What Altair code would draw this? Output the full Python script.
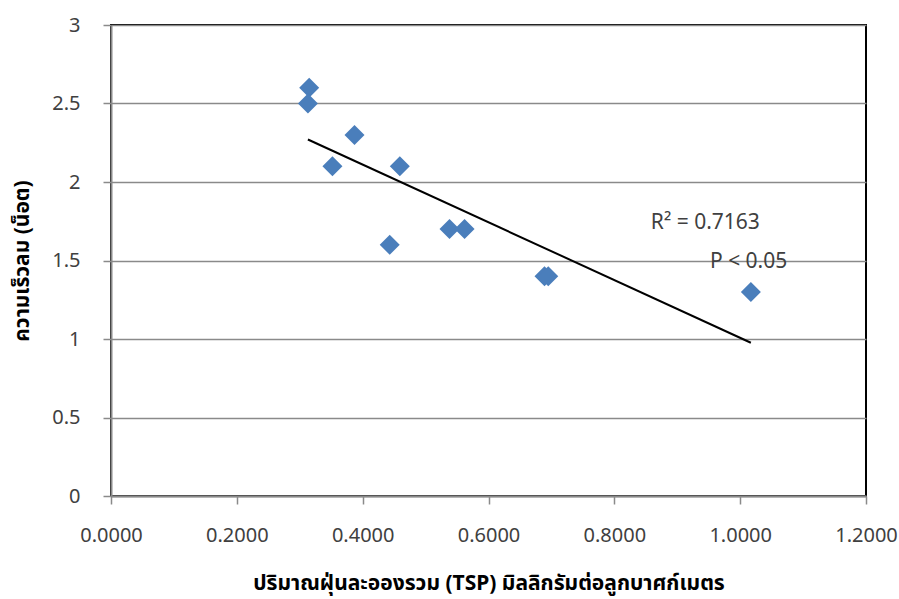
import altair as alt
import pandas as pd

# Data
tsp = [0.315, 0.313, 0.352, 0.387, 0.443, 0.459, 0.538, 0.562, 0.689, 0.695, 1.017]
wind = [2.6, 2.5, 2.1, 2.3, 1.6, 2.1, 1.7, 1.7, 1.4, 1.4, 1.3]

ann_text = ["R² = 0.7163", "P < 0.05"]
ann_x = [0.858, 0.952]
ann_y = [1.739, 1.490]

x_title = "ปริมาณฝุ่นละอองรวม (TSP) มิลลิกรัมต่อลูกบาศก์เมตร"
y_title = "ความเร็วลม (น็อต)"

df = pd.DataFrame({"x": tsp, "y": wind})
ann = pd.DataFrame({"x": ann_x, "y": ann_y, "t": ann_text})

FONT = "Noto Sans, Noto Sans Thai, sans-serif"
TXT = "#404040"
GRID = "#8a8a8a"

xs = alt.Scale(domain=[0, 1.2], nice=False)
ys = alt.Scale(domain=[0, 3], nice=False)

x_axis = alt.Axis(
    values=[0, 0.2, 0.4, 0.6, 0.8, 1.0, 1.2],
    format=".4f",
    grid=False,
    tickSize=8,
    tickColor=GRID,
    domainColor=GRID,
    domainWidth=2,
    tickWidth=1.5,
    labelFlush=False,
    labelOverlap=False,
    labelPadding=21,
    labelFontSize=20,
    labelColor=TXT,
    labelFont=FONT,
    title=x_title,
    titleFont=FONT,
    titleFontSize=21,
    titleFontWeight="bold",
    titleColor="#000000",
    titleBaseline="middle",
    titleY=87,
)
y_axis = alt.Axis(
    values=[0, 0.5, 1, 1.5, 2, 2.5, 3],
    format="~g",
    grid=True,
    gridColor=GRID,
    gridWidth=1.5,
    tickSize=8,
    tickColor=GRID,
    domainColor=GRID,
    domainWidth=2,
    tickWidth=1.5,
    labelFlush=False,
    labelOverlap=False,
    labelPadding=23,
    labelFontSize=20,
    labelColor=TXT,
    labelFont=FONT,
    title=y_title,
    titleFont=FONT,
    titleFontSize=21,
    titleFontWeight="bold",
    titleColor="#000000",
    titleBaseline="middle",
    titleX=-89,
)

base = alt.Chart(df)

points = base.mark_point(
    shape="diamond", filled=True, size=400, color="#4a7ebb", opacity=1
).encode(
    x=alt.X("x:Q", scale=xs, axis=x_axis),
    y=alt.Y("y:Q", scale=ys, axis=y_axis),
)

trend = base.transform_regression("x", "y").mark_line(
    color="#000000", strokeWidth=2
).encode(
    x=alt.X("x:Q", scale=xs),
    y=alt.Y("y:Q", scale=ys),
)

labels = alt.Chart(ann).mark_text(
    align="left", baseline="middle", fontSize=21, font=FONT, color=TXT
).encode(
    x=alt.X("x:Q", scale=xs),
    y=alt.Y("y:Q", scale=ys),
    text="t:N",
)

chart = (
    alt.layer(trend, points, labels)
    .properties(
        width=755,
        height=471,
        padding={"left": 111, "top": 25, "right": 33, "bottom": 103},
        autosize=alt.AutoSizeParams(type="none"),
        background="#ffffff",
    )
    .configure_view(stroke="#000000", strokeWidth=2)
)

chart.save("out.html", embed_options={"renderer": "svg", "actions": False})
